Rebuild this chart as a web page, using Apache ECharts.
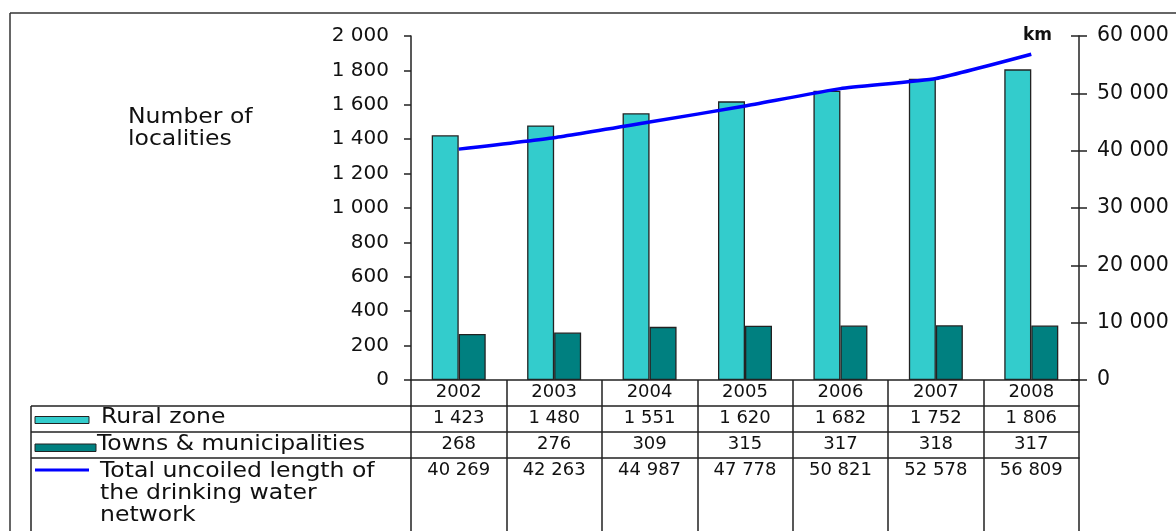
<!DOCTYPE html>
<html>
<head>
<meta charset="utf-8">
<title>Localities and drinking water network</title>
<script src="https://cdn.jsdelivr.net/npm/echarts@6/dist/echarts.min.js"></script>
<style>
  html, body { margin: 0; padding: 0; background: #fff; }
  #chart { width: 1176px; height: 531px; }
</style>
</head>
<body>
<div id="chart"></div>
<script>
// Data
const years = ['2002', '2003', '2004', '2005', '2006', '2007', '2008'];
const rural = [1423, 1480, 1551, 1620, 1682, 1752, 1806];
const towns = [268, 276, 309, 315, 317, 318, 317];
const networkKm = [40269, 42263, 44987, 47778, 50821, 52578, 56809];

const seriesNames = ['Rural zone', 'Towns & municipalities', 'Total uncoiled length of the drinking water network'];

// thousands separated by a space: 40 269
const fmt = v => String(v).replace(/\B(?=(\d{3})+(?!\d))/g, ' ');

const FONT = '"DejaVu Sans", sans-serif';
const INK = '#111';
const RULE = { color: '#222', width: 1.5 };

const chart = echarts.init(document.getElementById('chart'), null, { renderer: 'canvas' });

// one category axis per table row, stacked below the plot with offsets
function tableRow(values, offset, tickLen) {
  return {
    type: 'category',
    position: 'bottom',
    offset: offset,
    data: values,
    boundaryGap: true,
    axisLine: { show: true, onZero: false, lineStyle: RULE },
    axisTick: { show: true, interval: 0, length: tickLen, lineStyle: RULE },
    axisLabel: { interval: 0, margin: 3, color: INK, fontFamily: FONT, fontSize: 18 },
    splitLine: { show: false }
  };
}

// slightly widened label text for the legend column and the left title
function wideText(x, y, text, font) {
  return {
    type: 'text', x: x, y: y, scaleX: 1.12,
    style: { x: 0, y: 0, text: text, font: font || ('21px ' + FONT), fill: INK, textVerticalAlign: 'middle' }
  };
}

const option = {
  backgroundColor: '#fff',
  animation: false,
  grid: { left: 411, right: 97, top: 36, bottom: 151, containLabel: false },
  xAxis: [
    tableRow(years, 0, 26),
    tableRow(rural.map(fmt), 26, 26),
    tableRow(towns.map(fmt), 52, 26),
    tableRow(networkKm.map(fmt), 78, 100)
  ],
  yAxis: [
    {
      type: 'value', position: 'left', min: 0, max: 2000, interval: 200,
      axisLine: { show: true, lineStyle: RULE },
      axisTick: { show: true, length: 7, lineStyle: RULE },
      axisLabel: { margin: 22, color: INK, fontFamily: FONT, fontSize: 20, formatter: fmt },
      splitLine: { show: false }
    },
    {
      type: 'value', position: 'right', min: 0, max: 60000, interval: 10000,
      axisLine: { show: true, lineStyle: RULE },
      axisTick: { show: true, length: 8, lineStyle: RULE },
      axisLabel: { margin: 18, color: INK, fontFamily: FONT, fontSize: 20.5, formatter: fmt },
      splitLine: { show: false }
    },
    {
      // inner half of the crossing ticks on the km axis
      type: 'value', position: 'right', min: 0, max: 60000, interval: 10000,
      axisLine: { show: false },
      axisTick: { show: true, inside: true, length: 8, lineStyle: RULE },
      axisLabel: { show: false },
      splitLine: { show: false }
    }
  ],
  series: [
    {
      name: seriesNames[0], type: 'bar', xAxisIndex: 0, yAxisIndex: 0,
      data: rural, barWidth: 27, barGap: '0%',
      itemStyle: { color: '#33CCCC', borderColor: '#222', borderWidth: 1.3 }
    },
    {
      name: seriesNames[1], type: 'bar', xAxisIndex: 0, yAxisIndex: 0,
      data: towns, barWidth: 27, barGap: '0%',
      itemStyle: { color: '#008080', borderColor: '#222', borderWidth: 1.3 }
    },
    {
      name: seriesNames[2], type: 'line', xAxisIndex: 0, yAxisIndex: 1,
      data: networkKm, smooth: 0.15, showSymbol: false, symbol: 'none',
      lineStyle: { color: '#0000FF', width: 3.5 }, z: 5
    }
  ],
  graphic: [
    // outer frame
    { type: 'line', shape: { x1: 10, y1: 13, x2: 1176, y2: 13 }, style: { stroke: '#333', lineWidth: 1.5 } },
    { type: 'line', shape: { x1: 10, y1: 13, x2: 10, y2: 531 }, style: { stroke: '#333', lineWidth: 1.5 } },
    // legend column of the data table
    { type: 'line', shape: { x1: 31, y1: 406, x2: 411, y2: 406 }, style: { stroke: '#222', lineWidth: 1.5 } },
    { type: 'line', shape: { x1: 31, y1: 432, x2: 411, y2: 432 }, style: { stroke: '#222', lineWidth: 1.5 } },
    { type: 'line', shape: { x1: 31, y1: 458, x2: 411, y2: 458 }, style: { stroke: '#222', lineWidth: 1.5 } },
    { type: 'line', shape: { x1: 31, y1: 406, x2: 31, y2: 531 }, style: { stroke: '#222', lineWidth: 1.5 } },
    // legend keys
    { type: 'rect', shape: { x: 35, y: 416.5, width: 54, height: 7 }, style: { fill: '#33CCCC', stroke: '#222', lineWidth: 1 } },
    { type: 'rect', shape: { x: 35, y: 444, width: 61, height: 7.5 }, style: { fill: '#008080', stroke: '#222', lineWidth: 1 } },
    { type: 'line', shape: { x1: 35, y1: 470, x2: 89, y2: 470 }, style: { stroke: '#0000FF', lineWidth: 3 } },
    // legend labels
    wideText(101, 418, 'Rural zone'),
    wideText(97, 444.5, 'Towns & municipalities'),
    wideText(100, 471.5, 'Total uncoiled length of'),
    wideText(100, 494, 'the drinking water'),
    wideText(100, 515.5, 'network'),
    // axis titles
    wideText(128, 118, 'Number of'),
    wideText(128, 140, 'localities'),
    { type: 'text', style: { x: 1023, y: 36, text: 'km', font: 'bold 17px ' + FONT, fill: INK, textVerticalAlign: 'middle' } }
  ]
};

chart.setOption(option);
</script>
</body>
</html>
